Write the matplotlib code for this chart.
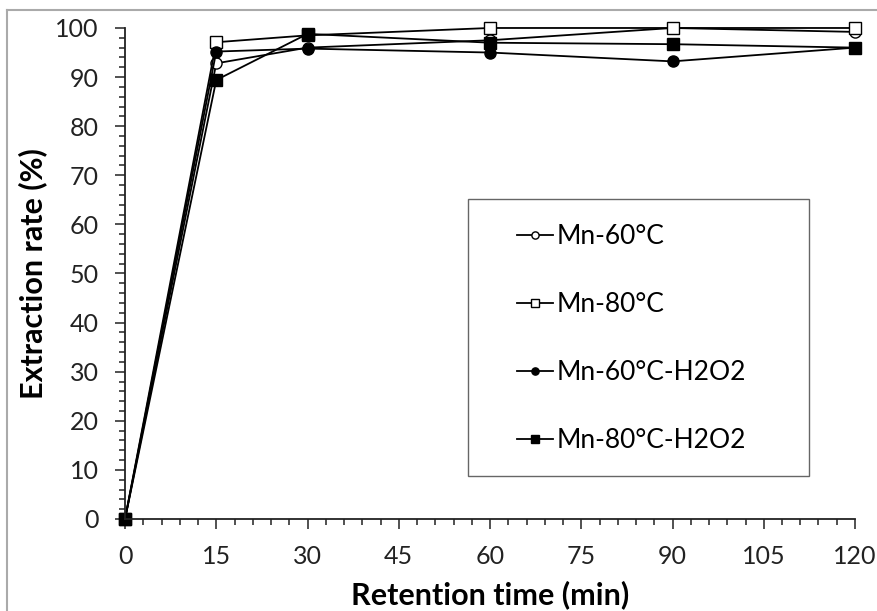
import numpy as np
import matplotlib.pyplot as plt
from matplotlib.ticker import MultipleLocator
from matplotlib.lines import Line2D

plt.rcParams['font.family'] = ['Lato', 'DejaVu Sans']

# data
time = [0, 15, 30, 60, 90, 120]
mn_60 = [0, 92.8, 96.0, 97.5, 100.0, 99.2]
mn_80 = [0, 97.1, 98.5, 100.0, 100.0, 100.0]
mn_60_h2o2 = [0, 95.2, 95.8, 95.0, 93.2, 96.0]
mn_80_h2o2 = [0, 89.4, 98.8, 97.0, 96.7, 96.0]

labels = ['Mn-60°C', 'Mn-80°C', 'Mn-60°C-H2O2', 'Mn-80°C-H2O2']
series = [mn_60, mn_80, mn_60_h2o2, mn_80_h2o2]
markers = ['o', 's', 'o', 's']
faces = ['white', 'white', 'black', 'black']

fig = plt.figure(figsize=(8.78, 6.11), dpi=100)
ax = fig.add_axes([0.1424, 0.1506, 0.8314, 0.8036])

for vals, lab, m, fc in zip(series, labels, markers, faces):
    ax.plot(time, vals, color='black', linewidth=1.3, marker=m, markersize=8,
            markerfacecolor=fc, markeredgecolor='black', markeredgewidth=1.0,
            label=lab, clip_on=False)

ax.set_xlim(0, 120)
ax.set_ylim(0, 100)
ax.xaxis.set_major_locator(MultipleLocator(15))
ax.xaxis.set_minor_locator(MultipleLocator(3))
ax.yaxis.set_major_locator(MultipleLocator(10))
ax.yaxis.set_minor_locator(MultipleLocator(2))
ax.tick_params(which='major', direction='out', length=7, width=1.1, labelsize=18, colors='#222222')
ax.tick_params(which='minor', direction='out', length=4.5, width=1.1, color='#222222')
ax.tick_params(axis='x', which='major', pad=12)
ax.tick_params(axis='y', which='major', pad=12)
for s in ['top', 'right']:
    ax.spines[s].set_visible(False)
for s in ['left', 'bottom']:
    ax.spines[s].set_linewidth(1.3)
    ax.spines[s].set_color('#222222')

ax.set_xlabel('Retention time (min)', fontsize=22, fontweight='bold')
ax.set_ylabel('Extraction rate (%)', fontsize=22, fontweight='bold')
ax.xaxis.set_label_coords(0.5, -0.155)
ax.yaxis.set_label_coords(-0.127, 0.5)
ax.xaxis.label.set_va('center')
ax.yaxis.label.set_va('center')

# legend box drawn separately so the entries can sit indented inside it
ax.add_patch(plt.Rectangle((0.470, 0.0876), 0.467, 0.5646, transform=ax.transAxes,
                           fill=False, edgecolor='#666666', linewidth=1.0, clip_on=False))
leg = ax.legend(loc='center left', bbox_to_anchor=(0.537, 0.3676), fontsize=19,
                frameon=False, handlelength=1.36, handletextpad=0.15,
                labelspacing=1.63, borderpad=0, borderaxespad=0, markerscale=0.65)

# outer frame lines (top and left only)
fig.add_artist(Line2D([7 / 878, 1], [1 - 10 / 611, 1 - 10 / 611], transform=fig.transFigure,
                      color='#aaaaaa', linewidth=1.5))
fig.add_artist(Line2D([7 / 878, 7 / 878], [0, 1 - 10 / 611], transform=fig.transFigure,
                      color='#aaaaaa', linewidth=1.5))

fig.savefig('out.png', dpi=100)
